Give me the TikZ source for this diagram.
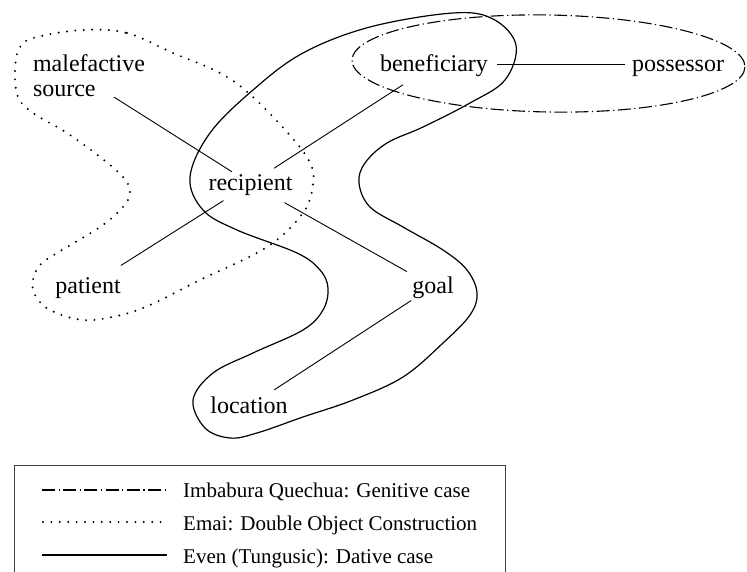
\documentclass[tikz,border=0pt]{standalone}
\usepackage{fontspec}
\setmainfont{Liberation Serif}
\begin{document}
\begin{tikzpicture}[x=1pt,y=-1pt]
\tikzset{
  lbl/.style={font=\fontsize{24}{25}\selectfont, inner sep=0pt, outer sep=0pt},
  one/.style={lbl, text height=18pt, text depth=4pt, anchor=base},
  leg/.style={font=\fontsize{21}{24}\selectfont, inner sep=0pt, anchor=base west},
  conn/.style={line width=0.9pt},
  even/.style={line width=1.2pt},
  emai/.style={line width=2.2pt, line cap=round, dash pattern=on 0pt off 8.4pt},
  quech/.style={line width=1.1pt, dash pattern=on 13pt off 3.5pt on 1.2pt off 3.5pt},
}
\useasboundingbox (0,0) rectangle (747,572);
\clip (0,0) rectangle (747,572);

% Emai: dotted region
\draw[emai] plot[smooth cycle, tension=0.6] coordinates {
 (83,30) (127,33) (173,53) (220,73) (253,97) (294,140) (311,165) (313,185) (303,213)
 (267,247) (200,280) (150,305) (117,316) (83,320) (50,310) (35,295) (33,280) (40,265)
 (57,253) (100,227) (123,207) (130,192) (123,177) (100,157) (67,133) (33,113) (18,97)
 (15,70) (20,47) (37,37)};

% Even: solid region
\draw[even] plot[smooth cycle, tension=0.6] coordinates {
 (453,13) (493,19) (516,45) (505,80) (470,103) (423,127) (387,143) (365,163) (359,183)
 (370,207) (403,227) (443,250) (467,270) (477,293) (470,315) (443,343) (403,377)
 (353,400) (303,417) (257,433) (230,438) (205,428) (193,400) (213,373) (253,353)
 (303,330) (323,310) (328,288) (320,270) (297,253) (237,230) (203,210) (190,177)
 (210,133) (253,90) (303,53) (370,27)};

% Imbabura Quechua: dash-dot ellipse
\draw[quech] (548.5,63.5) ellipse [x radius=196.5, y radius=48.5, rotate=-1];

% nodes
\node[lbl, align=left, anchor=north west] (mal) at (33,55) {malefactive\\source};
\node[one] (rec) at (250.5,190.5) {recipient};
\node[one] (pat) at (88,293.3) {patient};
\node[one] (ben) at (434,71.7) {beneficiary};
\node[one] (pos) at (678,71.7) {possessor};
\node[one] (goal) at (433,293.3) {goal};
\node[one] (loc) at (249,413.3) {location};

% connectors
\draw[conn, shorten >=22pt] (mal.-40) -- (rec.center);
\draw[conn, shorten <=28pt, shorten >=37pt] (rec.center) -- (ben.center);
\draw[conn, shorten <=32pt, shorten >=39pt] (rec.center) -- (pat.center);
\draw[conn, shorten <=39pt, shorten >=30pt] (rec.center) -- (goal.center);
\draw[conn, shorten <=26pt, shorten >=30pt] (goal.center) -- (loc.center);
\draw[conn, shorten <=63pt, shorten >=53pt] (ben.center) -- (pos.center);

% legend
\draw[line width=0.8pt, black!75] (14,590) -- (14,465) -- (505,465) -- (505,590);
\draw[quech] (42,490) -- (167,490);
\draw[emai] (43,522) -- (167,522);
\draw[even] (42,555) -- (167,555);
\node[leg] (l1) at (183,497) {Imbabura Quechua: Genitive case};
\node[leg] (l2) at (183,530) {Emai: Double Object Construction};
\node[leg] (l3) at (183,563) {Even (Tungusic): Dative case};
\end{tikzpicture}
\end{document}
